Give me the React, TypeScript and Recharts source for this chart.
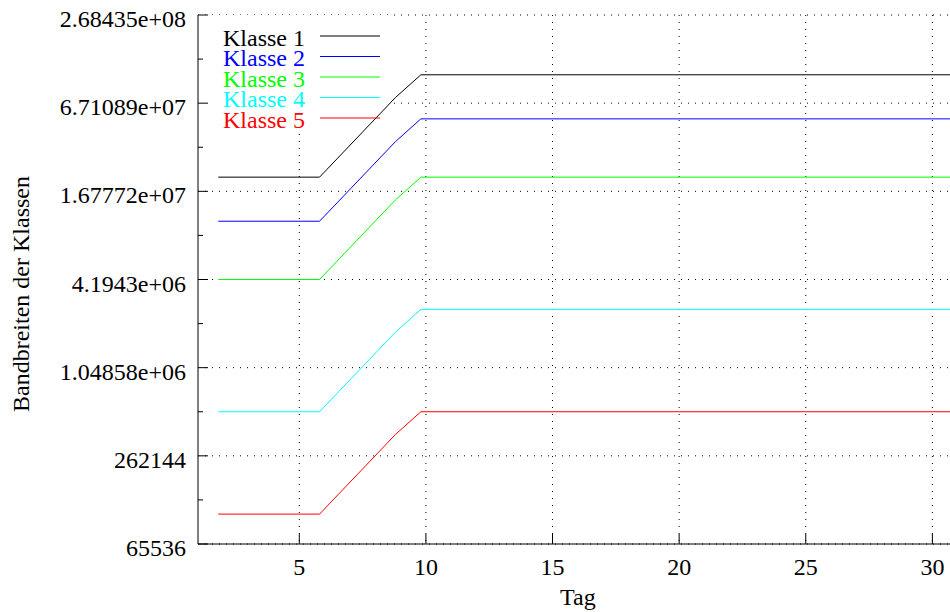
import { LineChart, Line, XAxis, YAxis, CartesianGrid, Legend, ReferenceArea } from 'recharts'

// days (x) of the sampled points
const DAYS = [1.8, 5.8, 8.8, 9.8, 30.8]

// bandwidth per class (bytes)
const KLASSE_1 = [20971520, 20971520, 73400320, 104857600, 104857600]
const KLASSE_2 = [10485760, 10485760, 36700160, 52428800, 52428800]
const KLASSE_3 = [4194304, 4194304, 14680064, 20971520, 20971520]
const KLASSE_4 = [524288, 524288, 1835008, 2621440, 2621440]
const KLASSE_5 = [104858, 104858, 367002, 524288, 524288]

const X_TICKS = [5, 10, 15, 20, 25, 30]
const Y_TICKS = [
  65536, 131072, 262144, 524288, 1048576, 2097152, 4194304,
  8388608, 16777216, 33554432, 67108864, 134217728, 268435456,
]
const Y_MAJOR = [65536, 262144, 1048576, 4194304, 16777216, 67108864, 268435456]
const Y_LABELS = ['65536', '262144', '1.04858e+06', '4.1943e+06', '1.67772e+07', '6.71089e+07', '2.68435e+08']

const SERIES = [
  { key: 'k1', name: 'Klasse 1', color: '#000000', values: KLASSE_1 },
  { key: 'k2', name: 'Klasse 2', color: '#0000ff', values: KLASSE_2 },
  { key: 'k3', name: 'Klasse 3', color: '#00ff00', values: KLASSE_3 },
  { key: 'k4', name: 'Klasse 4', color: '#00ffff', values: KLASSE_4 },
  { key: 'k5', name: 'Klasse 5', color: '#ff0000', values: KLASSE_5 },
]

const data = DAYS.map((d, i) => {
  const row: Record<string, number> = { tag: d }
  SERIES.forEach(s => { row[s.key] = s.values[i] })
  return row
})

const FONT = '"Liberation Serif", "Times New Roman", serif'

// area of the key, where gnuplot leaves the grid out
const KEY_X = [1, 8.58]
const KEY_Y = [42700000, 268435456]

function YTick(props: any) {
  const { x, y, payload } = props
  const idx = Y_MAJOR.indexOf(payload.value)
  const major = idx >= 0
  return (
    <g>
      <line x1={x} x2={x + (major ? 10 : 5)} y1={y} y2={y} stroke="#000" strokeWidth={1} />
      {major && (
        <text x={x - 12} y={y + 12} textAnchor="end" fontSize={24} fontFamily={FONT} fill="#000">
          {Y_LABELS[idx]}
        </text>
      )}
    </g>
  )
}

function XTick(props: any) {
  const { x, y, payload } = props
  return (
    <g>
      <line x1={x} x2={x} y1={y} y2={y - 10} stroke="#000" strokeWidth={1} />
      <text x={x} y={y + 31} textAnchor="middle" fontSize={24} fontFamily={FONT} fill="#000">
        {payload.value}
      </text>
    </g>
  )
}

function TopTick(props: any) {
  const { x, y } = props
  return <line x1={x} x2={x} y1={y} y2={y + 10} stroke="#000" strokeWidth={1} />
}

function KeyContent(props: any) {
  const payload = props.payload ?? []
  return (
    <svg width={400} height={140} style={{ display: 'block' }}>
      {payload.map((p: any, i: number) => {
        const ly = 36 + i * 20.5
        return (
          <g key={p.value}>
            <text x={305} y={ly + 9.5} textAnchor="end" fontSize={24} fontFamily={FONT} fill={p.color}>
              {p.value}
            </text>
            <line x1={320} x2={380} y1={ly} y2={ly} stroke={p.color} strokeWidth={1} />
          </g>
        )
      })}
    </svg>
  )
}

export default function App() {
  return (
    <div style={{ position: 'absolute', left: 0, top: 0, width: 950, height: 612, overflow: 'hidden', background: '#fff' }}>
      <LineChart width={980} height={612} data={data} margin={{ top: 15, right: 22.3, bottom: 0, left: 0 }}>
        <CartesianGrid
          stroke="#000"
          strokeWidth={1}
          strokeDasharray="1 6"
          horizontalValues={Y_MAJOR}
          verticalValues={X_TICKS}
        />
        <ReferenceArea
          x1={KEY_X[0]} x2={KEY_X[1]} y1={KEY_Y[0]} y2={KEY_Y[1]}
          fill="#fff" fillOpacity={1} stroke="none" ifOverflow="visible"
        />
        <XAxis
          dataKey="tag"
          type="number"
          domain={[1, 31]}
          allowDataOverflow
          ticks={X_TICKS}
          interval={0}
          height={68}
          tickSize={0}
          tickMargin={0}
          tickLine={false}
          axisLine={{ stroke: '#000', strokeWidth: 1 }}
          tick={<XTick />}
          label={{
            content: (p: any) => {
              const vb = p.viewBox
              return (
                <text x={vb.x + vb.width / 2} y={vb.y + 61} textAnchor="middle" fontSize={24} fontFamily={FONT} fill="#000">
                  Tag
                </text>
              )
            },
          }}
        />
        <XAxis
          xAxisId="top"
          orientation="top"
          type="number"
          domain={[1, 31]}
          allowDataOverflow
          ticks={X_TICKS}
          interval={0}
          height={0}
          tickSize={0}
          tickMargin={0}
          tickLine={false}
          axisLine={{ stroke: '#000', strokeWidth: 1 }}
          tick={<TopTick />}
        />
        <YAxis
          type="number"
          scale="log"
          domain={[65536, 268435456]}
          allowDataOverflow
          ticks={Y_TICKS}
          interval={0}
          width={198}
          tickSize={0}
          tickMargin={0}
          tickLine={false}
          axisLine={{ stroke: '#000', strokeWidth: 1 }}
          tick={<YTick />}
          label={{
            content: () => (
              <text
                x={21} y={294}
                transform="rotate(-90 21 294)"
                textAnchor="middle"
                dominantBaseline="central"
                fontSize={24}
                fontFamily={FONT}
                fill="#000"
              >
                Bandbreiten der Klassen
              </text>
            ),
          }}
        />
        {SERIES.map(s => (
          <Line
            key={s.key}
            type="linear"
            dataKey={s.key}
            name={s.name}
            stroke={s.color}
            strokeWidth={1}
            dot={false}
            activeDot={false}
            isAnimationActive={false}
          />
        ))}
        <Legend
          layout="vertical"
          align="center"
          verticalAlign="middle"
          content={<KeyContent />}
          wrapperStyle={{ left: 0, top: 0, width: 400, height: 140 }}
        />
      </LineChart>
    </div>
  )
}
